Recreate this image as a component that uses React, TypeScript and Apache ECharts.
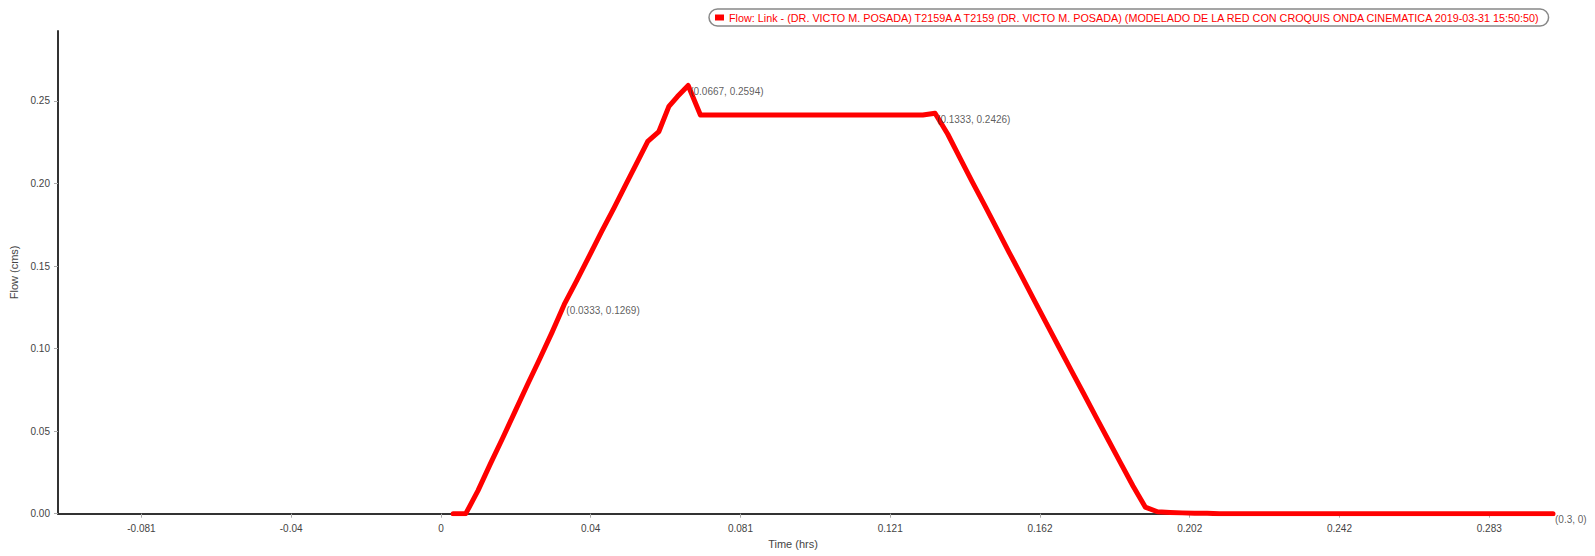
import { useEffect, useRef } from "react";
import * as echarts from "echarts";

const seriesName =
  "Flow: Link - (DR. VICTO M. POSADA) T2159A A T2159 (DR. VICTO M. POSADA) (MODELADO DE LA RED CON CROQUIS ONDA CINEMATICA 2019-03-31 15:50:50)";

const timeHrs = [
  0.0033, 0.0067, 0.01, 0.0133, 0.0167, 0.02, 0.0233, 0.0267, 0.03, 0.0333,
  0.0367, 0.04, 0.0433, 0.0467, 0.05, 0.0533, 0.0558, 0.0588, 0.0615, 0.0638,
  0.0667, 0.07, 0.0733, 0.0767, 0.08, 0.0833, 0.0867, 0.09, 0.0933, 0.0967,
  0.1, 0.1033, 0.1067, 0.11, 0.1133, 0.1167, 0.12, 0.1233, 0.1267, 0.13,
  0.1333, 0.1367, 0.14, 0.1433, 0.1467, 0.15, 0.1533, 0.1567, 0.16, 0.1633,
  0.1667, 0.17, 0.1733, 0.1767, 0.18, 0.1833, 0.1867, 0.19, 0.1933, 0.1967,
  0.2, 0.2033, 0.2067, 0.21, 0.22, 0.23, 0.24, 0.25, 0.26, 0.27, 0.28, 0.29,
  0.3,
];

const flowCms = [
  0, 0, 0.014, 0.03, 0.046, 0.062, 0.078, 0.094, 0.11, 0.1269,
  0.1415, 0.156, 0.1707, 0.1853, 0.1999, 0.2145, 0.2255, 0.2315, 0.2467, 0.2527,
  0.2594, 0.2415, 0.2415, 0.2415, 0.2415, 0.2415, 0.2415, 0.2415, 0.2415, 0.2415,
  0.2415, 0.2415, 0.2415, 0.2415, 0.2415, 0.2415, 0.2415, 0.2415, 0.2415, 0.2415,
  0.2426, 0.23, 0.2155, 0.2012, 0.1868, 0.1725, 0.1582, 0.1438, 0.1295, 0.1154,
  0.101, 0.087, 0.0731, 0.0587, 0.0448, 0.0309, 0.0168, 0.004, 0.0012, 0.0008,
  0.0005, 0.0003, 0.0002, 0, 0, 0, 0, 0, 0, 0, 0, 0,
  0,
];

const labelTimes = [0.0333, 0.0667, 0.1333, 0.3];
const labelFlows = [0.1269, 0.2594, 0.2426, 0];

const xTicks = [-0.0808, -0.0404, 0, 0.0404, 0.0808, 0.1212, 0.1616, 0.202, 0.2424, 0.2828];
const yTicks = [0, 0.05, 0.1, 0.15, 0.2, 0.25];

const xMin = -0.1033;
const xMax = 0.3;
const yMin = 0;
const yMax = 0.2924;

const FONT = "'Liberation Sans', Arial, sans-serif";

export default function App() {
  const ref = useRef<HTMLDivElement>(null);

  useEffect(() => {
    if (!ref.current) return;
    const chart = echarts.init(ref.current, undefined, { renderer: "svg" });
    const lineData = timeHrs.map((t, i) => [t, flowCms[i]]);
    const labelData = labelTimes.map((t, i) => [t, labelFlows[i]]);

    chart.setOption({
      animation: false,
      backgroundColor: "#ffffff",
      textStyle: { fontFamily: FONT },
      grid: { left: 58, right: 42, top: 31, bottom: 42.3, containLabel: false },
      legend: {
        data: [seriesName],
        left: 709,
        top: 9,
        icon: "rect",
        itemWidth: 9,
        itemHeight: 6,
        itemGap: 4,
        padding: [3, 6, 3, 6],
        borderColor: "#888888",
        borderWidth: 1.5,
        borderRadius: 9,
        textStyle: { color: "#ff0000", fontSize: 10.8, fontFamily: FONT },
      },
      xAxis: {
        type: "value",
        min: xMin,
        max: xMax,
        name: "Time (hrs)",
        nameLocation: "middle",
        nameGap: 25,
        nameTextStyle: { fontSize: 11, color: "#444", fontFamily: FONT, padding: [0, 25, 0, 0] },
        axisLine: { show: true, onZero: false, lineStyle: { color: "#333", width: 2 } },
        axisTick: { show: true, length: 4, customValues: xTicks, lineStyle: { color: "#aaa" } },
        axisLabel: {
          customValues: xTicks,
          formatter: (v: number) => String(parseFloat(Number(v).toFixed(3))),
          fontSize: 10,
          color: "#444",
          margin: 10,
          fontFamily: FONT,
        },
        splitLine: { show: false },
      },
      yAxis: {
        type: "value",
        min: yMin,
        max: yMax,
        name: "Flow (cms)",
        nameLocation: "middle",
        nameGap: 27,
        nameRotate: 90,
        nameTextStyle: { fontSize: 11, color: "#444", fontFamily: FONT },
        axisLine: { show: true, onZero: false, lineStyle: { color: "#333", width: 2 } },
        axisTick: { show: true, length: 4, customValues: yTicks, lineStyle: { color: "#aaa" } },
        axisLabel: {
          customValues: yTicks,
          formatter: (v: number) => Number(v).toFixed(2),
          fontSize: 10,
          color: "#444",
          margin: 8,
          fontFamily: FONT,
        },
        splitLine: { show: false },
      },
      series: [
        {
          name: seriesName,
          type: "line",
          data: lineData,
          showSymbol: false,
          symbol: "none",
          color: "#ff0000",
          lineStyle: { color: "#ff0000", width: 5, cap: "round", join: "round" },
          z: 3,
        },
        {
          name: "labels",
          type: "scatter",
          data: labelData,
          symbolSize: 2,
          itemStyle: { color: "rgba(0,0,0,0)" },
          z: 4,
          label: {
            show: true,
            position: "right",
            distance: 1,
            offset: [0, 6],
            fontSize: 10,
            color: "#333",
            fontFamily: FONT,
            formatter: (p: any) => `(${p.value[0]}, ${p.value[1]})`,
          },
        },
      ],
    });

    return () => chart.dispose();
  }, []);

  return (
    <div
      ref={ref}
      style={{ position: "fixed", left: 0, top: 0, width: 1595, height: 556, background: "#fff" }}
    />
  );
}
